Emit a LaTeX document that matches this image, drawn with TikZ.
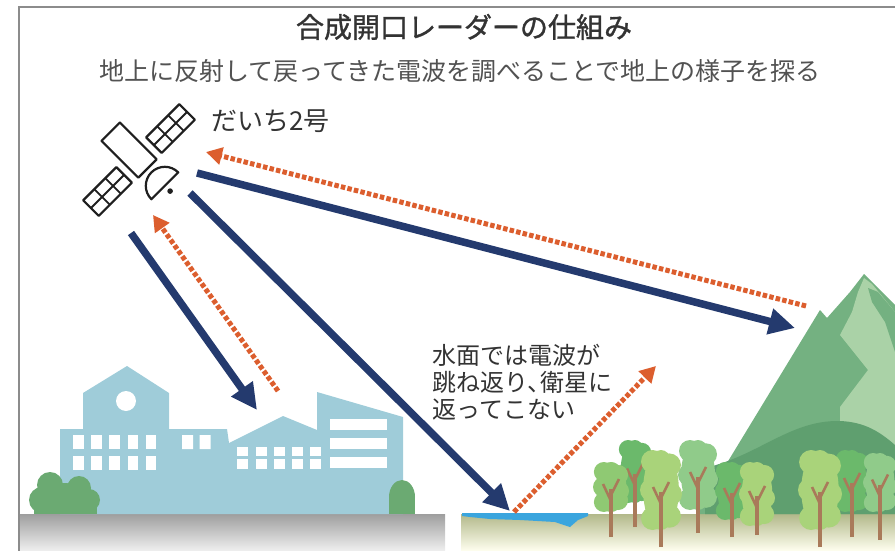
\documentclass[tikz,border=0pt]{standalone}
\usepackage{fontspec}
\newfontfamily\jp{Noto Sans CJK JP}
\newfontfamily\jpb[FakeBold=1.2]{Noto Sans CJK JP}
\usetikzlibrary{arrows.meta}

\definecolor{navy}{HTML}{243A6E}
\definecolor{rust}{HTML}{DC5E2E}
\definecolor{bldg}{HTML}{9FCCD9}
\definecolor{bush}{HTML}{6BAA72}
\definecolor{mtn}{HTML}{74B181}
\definecolor{mtnlight}{HTML}{AAD2A7}
\definecolor{hill}{HTML}{5F9F6F}
\definecolor{bark}{HTML}{A97A5A}
\definecolor{water}{HTML}{3AA5DE}
\definecolor{leafdark}{HTML}{6BB96B}
\definecolor{leafmid}{HTML}{8FC973}
\definecolor{leafpale}{HTML}{90CB8A}
\definecolor{leaflime}{HTML}{A9D37A}

\begin{document}
\begin{tikzpicture}[x=1pt, y=-1pt,
  frame/.style   = {draw=black!45, line width=1.6pt},
  sat/.style     = {draw=black!88, line width=2.2pt, fill=white, line join=round},
  satgrid/.style = {draw=black!88, line width=1.8pt},
  tx/.style      = {navy, line width=7.5pt, -{Triangle[length=26pt,width=25pt]}},
                     % outgoing pulse from the satellite
  echo/.style    = {rust, line width=5pt, dash pattern=on 4.5pt off 2.2pt,
                    -{Triangle[length=16pt,width=17pt]}},
                     % returning (or scattered) echo, dotted
  trunk/.style   = {bark, line width=4pt},
  twig/.style    = {bark, line width=2.6pt},
  window/.style  = {fill=white},
  txt/.style     = {inner sep=0pt, text=black!80},
]
  \useasboundingbox (0,0) rectangle (895,551);
  \draw[frame] (19,551) -- (19,7) -- (895,7);

  % ground strips
  \shade[top color=black!38, bottom color=black!6] (20,514) rectangle (445,551);
  \shade[top color={rgb,255:red,178;green,184;blue,138}, bottom color=white!94!yellow]
        (461,514) rectangle (895,551);
  \fill[water] (462,513) -- (588,513) -- (588,516) -- (578,520) -- (570,527)
        -- (555,522) -- (520,520) -- (490,519) -- (470,517) -- (462,516) -- cycle;

  % town
  \fill[bldg] (60,514) -- (60,429) -- (83,429) -- (83,393) -- (127,366) -- (169,393)
        -- (169,429) -- (227,429) -- (229,443) -- (283,416) -- (317,430) -- (317,392)
        -- (403,417) -- (403,514) -- cycle;
  \fill[window] (126,401) circle [radius=10];
  \foreach \c in {0,...,4} \foreach \r in {0,1}
    \fill[window] ({73+18.2*\c},{435+21*\r}) rectangle +(10.5,14);
  \fill[window] (182,435) rectangle +(11,14) (199.5,435) rectangle +(11,14);
  \foreach \c in {0,...,4} {
    \fill[window] ({237.3+18.2*\c},447) rectangle +(11,9);
    \fill[window] ({237.3+18.2*\c},459) rectangle +(11,10);
  }
  \foreach \r in {419,438,457}
    \fill[window] (330,\r) rectangle (387,{\r+11});
  \fill[bush] (50,485) circle [radius=13] (79,488) circle [radius=12]
        (42,500) circle [radius=13] (89,500) circle [radius=11] (65,498) circle [radius=15];
  \fill[bush] (34,497) rectangle (97,514);
  \fill[bush] (402,497) ellipse [x radius=13, y radius=17];
  \fill[bush] (389,500) rectangle (415,514);

  % mountain
  \fill[mtn] (696,514) -- (730,458) -- (820,310) -- (827,318) -- (850,292)
        -- (864,274) -- (880,290) -- (895,305) -- (895,514) -- cycle;
  \fill[mtnlight] (864,278) -- (872,284) -- (882,296) -- (895,312) -- (895,514)
        -- (840,470) -- (840,407) -- (868,370) -- (840,335) -- (852,312) -- (858,292) -- cycle;
  \fill[mtn] (868,288) -- (878,292) -- (895,312) -- (895,352) -- (885,322) -- (872,302) -- cycle;
  \fill[hill] (705,514) -- (705,468) .. controls (760,455) and (790,420) .. (840,421)
        .. controls (865,422) and (880,432) .. (895,445) -- (895,514) -- cycle;

  % trees: x / crown top / crown bottom / half width / foot / leaf colour
  \foreach \px/\ptop/\pbot/\pw/\pfoot/\pcol in {
      635/440/503/17/527/leafdark, 698/440/510/20/533/leafpale,
      852/450/512/17/537/leafdark, 611/462/512/18/537/leafmid,
      661/450/530/21/547/leaflime, 732/462/520/17/537/leafdark,
      757/462/526/18/535/leaflime, 820/450/530/22/547/leaflime,
      880/453/512/17/540/leafpale} {
    \pgfmathsetmacro\pmid{(\ptop+\pbot)/2}
    \pgfmathsetmacro\pry{(\pbot-\ptop)/2}
    \pgfmathsetmacro\pr{0.55*\pw}
    \fill[\pcol] (\px,\pmid) ellipse [x radius={0.85*\pw}, y radius=\pry]
        ({\px-0.4*\pw},{\ptop+\pr}) circle [radius=\pr]
        ({\px+0.4*\pw},{\ptop+1.3*\pr}) circle [radius=\pr]
        ({\px-0.45*\pw},\pmid) circle [radius=\pr]
        ({\px+0.45*\pw},{\pmid+4}) circle [radius=\pr]
        ({\px-0.4*\pw},{\pbot-\pr}) circle [radius=\pr]
        ({\px+0.4*\pw},{\pbot-1.2*\pr}) circle [radius=\pr];
    \draw[trunk] (\px,\pfoot) -- (\px,{\pmid+2});
    \draw[twig] (\px,{\pmid+14}) -- ({\px-8},{\pmid-3});
    \draw[twig] (\px,{\pmid+8}) -- ({\px+8},{\pmid-8});
  }

  % satellite, drawn along its panel axis (s) and its boom (t)
  \begin{scope}[shift={(139,160)}, x={(0.7071pt,0.7071pt)}, y={(0.7071pt,-0.7071pt)}]
    \draw[sat] (-13,-40) -- (13,-40) -- (13,12) -- (-13,12) -- cycle;
    \foreach \side in {1,-1} {
      \draw[sat] ({21*\side},-11) -- ({68*\side},-11) -- ({68*\side},11)
                 -- ({21*\side},11) -- cycle;
      \draw[satgrid] ({36.7*\side},-11) -- ({36.7*\side},11)
                     ({52.3*\side},-11) -- ({52.3*\side},11)
                     ({21*\side},0) -- ({68*\side},0);
    }
    \draw[sat] (19,36.5) .. controls (19,26) and (10.5,17.5) .. (0,17.5)
               .. controls (-10.5,17.5) and (-19,26) .. (-19,36.5) -- cycle;
    \fill[black!88] (0,44) circle [radius=2.8];
  \end{scope}

  % pulses and echoes
  \coordinate (b1s) at (131,233);  \coordinate (b1e) at (257,410);
  \coordinate (b2s) at (190,193);  \coordinate (b2e) at (510,511);
  \coordinate (b3s) at (197,173);  \coordinate (b3e) at (795,328);
  \coordinate (o1s) at (278,391);  \coordinate (o1e) at (153,215);
  \coordinate (o2s) at (806,306);  \coordinate (o2e) at (206,152);
  \coordinate (o3s) at (514,512);  \coordinate (o3e) at (656,366);
  \draw[tx] (b1s) -- (b1e);
  \draw[tx] (b2s) -- (b2e);
  \draw[tx] (b3s) -- (b3e);
  \draw[echo] (o1s) -- (o1e);
  \draw[echo] (o2s) -- (o2e);
  \draw[echo] (o3s) -- (o3e);

  % texts
  \node[txt, font=\jpb\fontsize{28}{32}\selectfont] (title) at (464,27) {合成開口レーダーの仕組み};
  \node[txt, text=black!68, font=\jp\fontsize{25}{28}\selectfont] (subtitle) at (460,71)
       {地上に反射して戻ってきた電波を調べることで地上の様子を探る};
  \node[txt, anchor=west, font=\jp\fontsize{26}{29}\selectfont] (satname) at (211,121) {だいち2号};
  \node[txt, anchor=north west, align=left, font=\jp\fontsize{24}{27}\selectfont] (note) at (432,344)
       {水面では電波が\\跳ね返り、\kern-0.45em 衛星に\\返ってこない};
\end{tikzpicture}
\end{document}
